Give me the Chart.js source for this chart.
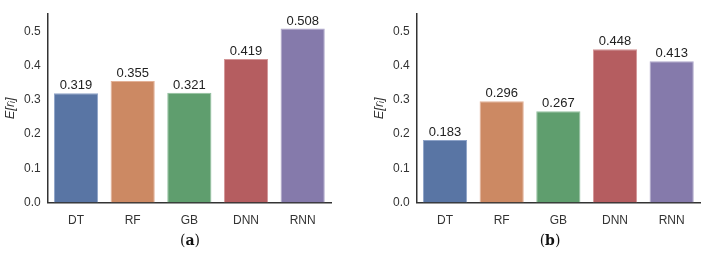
<!DOCTYPE html>
<html>
<head>
<meta charset="utf-8">
<script src="https://cdn.jsdelivr.net/npm/chart.js@4.4.0/dist/chart.umd.min.js"></script>
<style>
  html, body { margin: 0; padding: 0; background: #fff; }
  #wrap { position: relative; width: 720px; height: 256px; }
  .panel { position: absolute; top: 0; width: 360px; height: 239px; }
  .cap { position: absolute; top: 232px; width: 40px; text-align: center;
         font-family: "DejaVu Serif", "Liberation Serif", serif; font-size: 14px; color: #111; }
</style>
</head>
<body>
<div id="wrap">
  <div class="panel" style="left:0"><canvas id="chartA"></canvas></div>
  <div class="panel" style="left:360px"><canvas id="chartB"></canvas></div>
  <div class="cap" style="left:170px">(<b>a</b>)</div>
  <div class="cap" style="left:530px">(<b>b</b>)</div>
</div>
<script>
const models = ["DT", "RF", "GB", "DNN", "RNN"];
const valuesA = [0.319, 0.355, 0.321, 0.419, 0.508];
const valuesB = [0.183, 0.296, 0.267, 0.448, 0.413];
const yTicks = [0.0, 0.1, 0.2, 0.3, 0.4, 0.5];

const barColors = ["#5975a4", "#cc8963", "#5f9e6e", "#b55d60", "#857aab"];
const edgeColors = ["#8ea3c8", "#e3b197", "#93c19f", "#d39597", "#aea6cb"];

// draws the number above every bar
const valueLabels = {
    id: "valueLabels",
    afterDatasetsDraw(chart) {
        const ctx = chart.ctx;
        const meta = chart.getDatasetMeta(0);
        ctx.save();
        ctx.font = "13px 'Liberation Sans', Arial, sans-serif";
        ctx.fillStyle = "#222";
        ctx.textAlign = "center";
        ctx.textBaseline = "bottom";
        meta.data.forEach((bar, i) => {
            const v = chart.data.datasets[0].data[i];
            ctx.fillText(v.toFixed(3), bar.x, bar.y - 1);
        });
        ctx.restore();
    }
};

function makeChart(id, values, padLeft, padRight) {
    return new Chart(document.getElementById(id), {
        type: "bar",
        data: {
            labels: models,
            datasets: [{
                data: values,
                backgroundColor: barColors,
                borderColor: edgeColors,
                borderWidth: 1,
                categoryPercentage: 1.0,
                barPercentage: 0.78,
            }]
        },
        options: {
            responsive: true,
            maintainAspectRatio: false,
            animation: false,
            layout: { padding: { top: 7, right: padRight, left: padLeft, bottom: 0 } },
            plugins: {
                legend: { display: false },
                tooltip: { enabled: false },
            },
            scales: {
                x: {
                    grid: { display: false, drawTicks: false },
                    border: { color: "#333", width: 1.5 },
                    ticks: {
                        color: "#333",
                        padding: 11,
                        font: { family: "'Liberation Sans', Arial, sans-serif", size: 12 },
                    },
                },
                y: {
                    min: 0,
                    max: 0.55,
                    afterBuildTicks: (axis) => {
                        axis.ticks = yTicks.map(v => ({ value: v }));
                    },
                    grid: { display: false, drawTicks: false },
                    border: { color: "#333", width: 1.5 },
                    ticks: {
                        color: "#333",
                        padding: 7,
                        font: { family: "'Liberation Sans', Arial, sans-serif", size: 12 },
                        callback: (v) => Number(v).toFixed(1),
                    },
                    title: {
                        display: true,
                        text: "E[rᵢ]",
                        color: "#333",
                        padding: { top: 0, bottom: 0 },
                        font: { family: "'Liberation Sans', Arial, sans-serif", size: 13, style: "italic", lineHeight: 1.0 },
                    },
                },
            },
        },
        plugins: [valueLabels],
    });
}

makeChart("chartA", valuesA, 4, 29);
makeChart("chartB", valuesB, 13, 20);
</script>
</body>
</html>
